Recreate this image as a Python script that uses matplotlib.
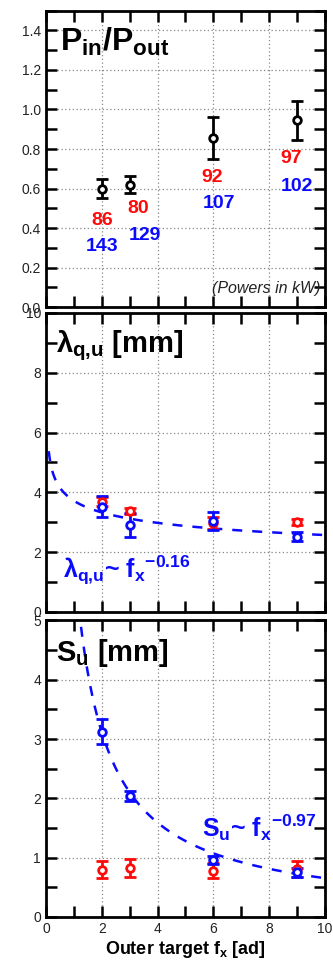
import matplotlib
matplotlib.use('Agg')
import matplotlib.pyplot as plt
from matplotlib.ticker import MultipleLocator
import numpy as np

plt.rcParams['font.family'] = ['Liberation Sans', 'DejaVu Sans']
plt.rcParams['mathtext.fontset'] = 'custom'
plt.rcParams['mathtext.rm'] = 'Liberation Sans:bold'
plt.rcParams['mathtext.it'] = 'Liberation Sans:bold'
plt.rcParams['mathtext.bf'] = 'Liberation Sans:bold'
plt.rcParams['mathtext.default'] = 'rm'

RED = '#ff0a0a'
BLUE = '#0a0aff'

fx = [2, 3, 6, 9]

# power ratio
ratio = [0.60, 0.62, 0.855, 0.945]
ratio_err = [0.05, 0.045, 0.105, 0.10]
p_in = ['86', '80', '92', '97']
p_out = ['143', '129', '107', '102']
p_in_pos = [(2.0, 0.44), (3.3, 0.50), (5.95, 0.655), (8.8, 0.75)]
p_out_pos = [(2.0, 0.305), (3.55, 0.365), (6.2, 0.525), (9.0, 0.61)]

# upstream decay length
lam_red = [3.69, 3.37, 2.97, 3.01]
lam_red_err = [0.14, 0.10, 0.19, 0.10]
lam_blue = [3.52, 2.90, 3.05, 2.52]
lam_blue_err = [0.36, 0.40, 0.31, 0.16]
lam_fit = (3.72, -0.16)

# upstream spreading factor
s_red = [0.80, 0.83, 0.78, 0.81]
s_red_err = [0.14, 0.15, 0.13, 0.14]
s_blue = [3.12, 2.04, 0.96, 0.75]
s_blue_err = [0.21, 0.09, 0.06, 0.07]
s_fit = (6.1, -0.97)

fig = plt.figure(figsize=(3.33, 9.63), dpi=100)
ax1 = fig.add_axes([0.138, 0.681, 0.838, 0.308])
ax2 = fig.add_axes([0.138, 0.3645, 0.838, 0.3105])
ax3 = fig.add_axes([0.138, 0.0478, 0.838, 0.308])


def style(ax, ymax, ymaj, ymin, fmt):
    ax.set_xlim(0, 10)
    ax.set_ylim(0, ymax)
    ax.xaxis.set_major_locator(MultipleLocator(2))
    ax.xaxis.set_minor_locator(MultipleLocator(1))
    ax.yaxis.set_major_locator(MultipleLocator(ymaj))
    ax.yaxis.set_minor_locator(MultipleLocator(ymin))
    ax.yaxis.set_major_formatter(fmt)
    ax.tick_params(which='both', direction='in', top=True, right=True,
                   width=1.8, labelsize=10, labelcolor='#222222', length=8)
    ax.grid(True, which='major', linestyle=(0, (1, 2)), color='#888888', lw=0.9)
    for s in ax.spines.values():
        s.set_linewidth(2)


def errs(ax, y, e, color):
    ax.errorbar(fx, y, yerr=e, fmt='o', mfc='white', mec=color, color=color,
                ms=5.5, mew=2, elinewidth=2, capsize=4.5, capthick=2, zorder=5)


style(ax1, 1.5, 0.2, 0.1, '{x:.1f}')
style(ax2, 10, 2, 1, '{x:.0f}')
style(ax3, 5, 1, 0.5, '{x:.0f}')
ax1.tick_params(labelbottom=False)
ax2.tick_params(labelbottom=False)

# top panel
errs(ax1, ratio, ratio_err, 'black')
for t, (x, y) in zip(p_in, p_in_pos):
    ax1.text(x, y, t, color=RED, fontsize=14, fontweight='bold', ha='center', va='center')
for t, (x, y) in zip(p_out, p_out_pos):
    ax1.text(x, y, t, color=BLUE, fontsize=14, fontweight='bold', ha='center', va='center')
ax1.text(0.5, 1.34, r'P$_{\mathregular{in}}$/P$_{\mathregular{out}}$', fontsize=23,
         fontweight='bold', va='center')
ax1.text(9.85, 0.095, '(Powers in kW)', fontsize=11.5, style='italic', ha='right',
         va='center', color='#222222')

# middle panel
xx = np.linspace(0.1, 10, 300)
ax2.plot(xx, lam_fit[0] * xx ** lam_fit[1], color=BLUE, ls=(0, (4, 4)), lw=1.8)
errs(ax2, lam_red, lam_red_err, RED)
errs(ax2, lam_blue, lam_blue_err, BLUE)
ax2.text(0.35, 8.9, r'$\lambda_{q{,}u}$ [mm]', fontsize=21, fontweight='bold', va='center')
ax2.text(0.6, 1.4, r'$\lambda_{q{,}u}$~ f$_x$$^{-0.16}$', fontsize=18, color=BLUE,
         fontweight='bold', va='center')

# bottom panel
xx = np.linspace(1.1, 10, 300)
ax3.plot(xx, s_fit[0] * xx ** s_fit[1], color=BLUE, ls=(0, (4, 4)), lw=1.8)
errs(ax3, s_red, s_red_err, RED)
errs(ax3, s_blue, s_blue_err, BLUE)
ax3.text(0.35, 4.45, r'S$_u$ [mm]', fontsize=21, fontweight='bold', va='center')
ax3.text(5.6, 1.5, r'S$_u$~ f$_x$$^{-0.97}$', fontsize=18, color=BLUE,
         fontweight='bold', va='center')
ax3.set_xlabel(r'Outer target f$_x$ [ad]', fontsize=13, fontweight='bold', labelpad=2)

fig.savefig('out.png', dpi=100)
